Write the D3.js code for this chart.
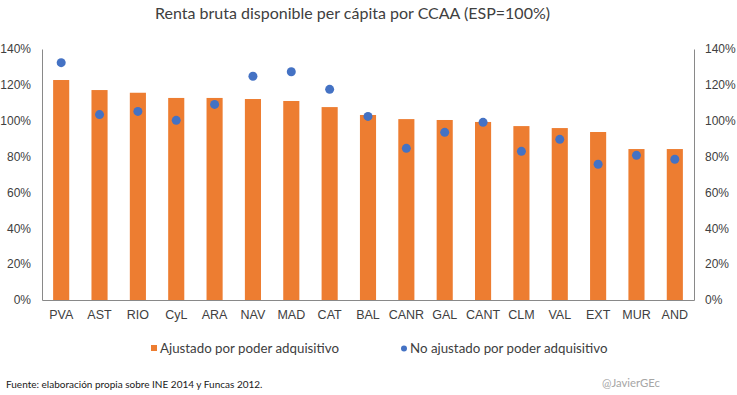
<!DOCTYPE html>
<html>
<head>
<meta charset="utf-8">
<script src="https://cdn.jsdelivr.net/npm/d3@7"></script>
<style>
  body { margin: 0; background: #fff; }
  svg { font-family: "Lato", "DejaVu Sans", sans-serif; }
</style>
</head>
<body>
<div id="chart"></div>
<script>
// Data
const regions = ['PVA', 'AST', 'RIO', 'CyL', 'ARA', 'NAV', 'MAD', 'CAT', 'BAL', 'CANR', 'GAL', 'CANT', 'CLM', 'VAL', 'EXT', 'MUR', 'AND'];
const adjusted = [122.7, 117.1, 115.6, 112.7, 112.7, 112.1, 111.0, 107.6, 103.2, 100.9, 100.4, 99.3, 97.0, 95.9, 93.7, 84.2, 84.2];
const unadjusted = [132.4, 103.4, 105.2, 100.2, 109.1, 124.8, 127.3, 117.5, 102.4, 84.6, 93.5, 99.1, 82.9, 89.6, 75.7, 80.7, 78.5];
const yTicks = [0, 20, 40, 60, 80, 100, 120, 140];

const width = 737, height = 395;
const margin = { top: 49, right: 43, bottom: 95, left: 42 };
const chartWidth = width - margin.left - margin.right;
const chartHeight = height - margin.top - margin.bottom;

const orange = '#ED7D31', blue = '#4472C4', axisGrey = '#898989', textCol = '#404040';

const svg = d3.select('#chart')
    .append('svg')
    .attr('width', width)
    .attr('height', height);

// Title
svg.append('text')
    .attr('x', 352.5)
    .attr('y', 19)
    .attr('text-anchor', 'middle')
    .style('font-size', '16px')
    .attr('fill', textCol)
    .text('Renta bruta disponible per cápita por CCAA (ESP=100%)');

const g = svg.append('g')
    .attr('transform', `translate(${margin.left},${margin.top})`);

const x = d3.scaleBand()
    .domain(regions)
    .range([0, chartWidth])
    .paddingInner(0.58)
    .paddingOuter(0.29);

const y = d3.scaleLinear()
    .domain([0, 140])
    .range([chartHeight, 0]);

// Left axis
const yLeft = g.append('g')
    .call(d3.axisLeft(y).tickValues(yTicks).tickSize(0).tickPadding(11).tickFormat(d => d + '%'));
yLeft.select('.domain').attr('stroke', axisGrey);
yLeft.selectAll('text').style('font-size', '12px').attr('fill', textCol).style('font-family', 'inherit');

// Right axis
const yRight = g.append('g')
    .attr('transform', `translate(${chartWidth},0)`)
    .call(d3.axisRight(y).tickValues(yTicks).tickSize(0).tickPadding(11).tickFormat(d => d + '%'));
yRight.select('.domain').attr('stroke', axisGrey);
yRight.selectAll('text').style('font-size', '12px').attr('fill', textCol).style('font-family', 'inherit');

// Bars
g.selectAll('.bar')
    .data(regions)
    .join('rect')
    .attr('class', 'bar')
    .attr('x', d => x(d))
    .attr('width', x.bandwidth())
    .attr('y', (d, i) => y(adjusted[i]))
    .attr('height', (d, i) => chartHeight - y(adjusted[i]))
    .attr('fill', orange);

// Bottom axis
const xAxis = g.append('g')
    .attr('transform', `translate(0,${chartHeight})`)
    .call(d3.axisBottom(x).tickSize(0).tickPadding(10));
xAxis.select('.domain').attr('stroke', axisGrey);
xAxis.selectAll('text').style('font-size', '12.5px').attr('fill', textCol).style('font-family', 'inherit');

// Dots
g.selectAll('.dot')
    .data(regions)
    .join('circle')
    .attr('class', 'dot')
    .attr('cx', d => x(d) + x.bandwidth() / 2)
    .attr('cy', (d, i) => y(unadjusted[i]))
    .attr('r', 4.5)
    .attr('fill', blue);

// Legend
const legend = svg.append('g').attr('transform', 'translate(0,353)');
legend.append('rect')
    .attr('x', 151).attr('y', -8)
    .attr('width', 6).attr('height', 6)
    .attr('fill', orange);
legend.append('text')
    .attr('x', 160).attr('y', 0)
    .style('font-size', '13.3px').attr('fill', textCol)
    .text('Ajustado por poder adquisitivo');
legend.append('circle')
    .attr('cx', 404).attr('cy', -4.5).attr('r', 3)
    .attr('fill', blue);
legend.append('text')
    .attr('x', 410).attr('y', 0)
    .style('font-size', '13.3px').attr('fill', textCol)
    .text('No ajustado por poder adquisitivo');

// Footer
svg.append('text')
    .attr('x', 6).attr('y', 388)
    .style('font-size', '10px').attr('fill', '#202020')
    .text('Fuente: elaboración propia sobre INE 2014 y Funcas 2012.');
svg.append('text')
    .attr('x', 602).attr('y', 387)
    .style('font-size', '11.3px').attr('fill', '#a6a6a6')
    .text('@JavierGEc');
</script>
</body>
</html>
